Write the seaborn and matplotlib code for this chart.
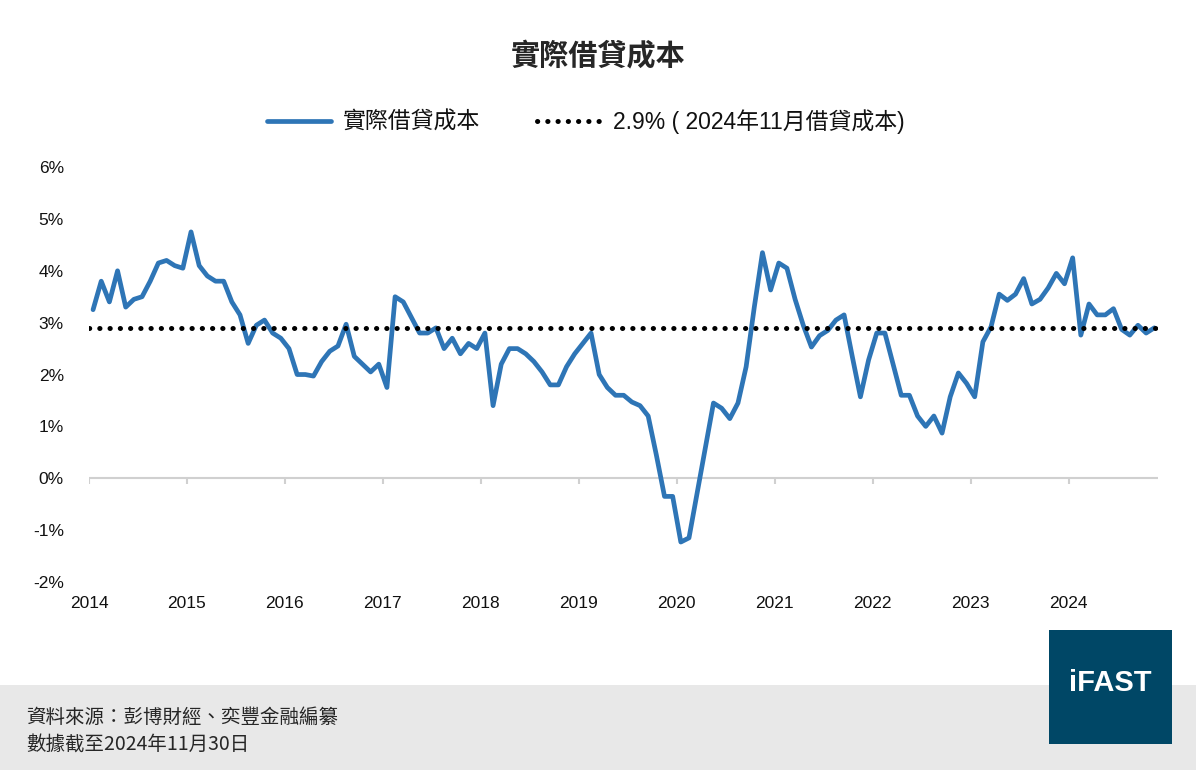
import matplotlib
matplotlib.use("Agg")
import matplotlib.pyplot as plt
import seaborn as sns
import numpy as np
import pandas as pd
from matplotlib.patches import Rectangle

sns.set_style("white")
plt.rcParams['font.family'] = ['Liberation Sans', 'Noto Sans CJK TC', 'DejaVu Sans']

# monthly real borrowing cost, Jan 2014 - Nov 2024 (%)
rate_2014 = [3.25, 3.8, 3.4, 4.0, 3.3, 3.45, 3.5, 3.8, 4.15, 4.2, 4.1, 4.05]
rate_2015 = [4.75, 4.1, 3.9, 3.8, 3.8, 3.4, 3.15, 2.6, 2.95, 3.05, 2.8, 2.7]
rate_2016 = [2.5, 2.0, 2.0, 1.97, 2.25, 2.45, 2.55, 2.97, 2.35, 2.2, 2.05, 2.2]
rate_2017 = [1.75, 3.5, 3.4, 3.1, 2.8, 2.8, 2.9, 2.5, 2.7, 2.4, 2.6, 2.5]
rate_2018 = [2.8, 1.4, 2.2, 2.5, 2.5, 2.4, 2.25, 2.05, 1.8, 1.8, 2.15, 2.4]
rate_2019 = [2.6, 2.8, 2.0, 1.75, 1.6, 1.6, 1.47, 1.4, 1.2, 0.45, -0.35, -0.35]
rate_2020 = [-1.23, -1.15, -0.28, 0.58, 1.45, 1.35, 1.15, 1.45, 2.15, 3.3, 4.35, 3.63]
rate_2021 = [4.15, 4.05, 3.45, 2.95, 2.53, 2.75, 2.85, 3.05, 3.15, 2.35, 1.57, 2.28]
rate_2022 = [2.8, 2.8, 2.2, 1.6, 1.6, 1.2, 1.0, 1.2, 0.87, 1.57, 2.03, 1.83]
rate_2023 = [1.57, 2.63, 2.92, 3.55, 3.43, 3.55, 3.85, 3.36, 3.45, 3.67, 3.95, 3.75]
rate_2024 = [4.25, 2.76, 3.36, 3.15, 3.15, 3.27, 2.87, 2.76, 2.95, 2.8, 2.9]
latest = 2.9
year_ticks = list(range(2014, 2025))
y_ticks = [-2, -1, 0, 1, 2, 3, 4, 5, 6]

rates = (rate_2014 + rate_2015 + rate_2016 + rate_2017 + rate_2018 + rate_2019
         + rate_2020 + rate_2021 + rate_2022 + rate_2023 + rate_2024)
df = pd.DataFrame({"t": 2014 + (np.arange(len(rates)) + 0.5) / 12, "rate": rates})

fig = plt.figure(figsize=(11.96, 7.7), dpi=100)
ax = fig.add_axes([0.0744, 0.2442, 0.8936, 0.5388])

sns.lineplot(data=df, x="t", y="rate", ax=ax, color="#2e75b6", linewidth=3.4,
             label="實際借貸成本")
ax.axhline(latest, color="black", linestyle=(0, (0.05, 2.0)), linewidth=3.6,
           dash_capstyle="round", label="2.9% ( 2024年11月借貸成本)")

ax.set_xlim(2014, 2024.91)
ax.set_ylim(-2, 6)
ax.set_yticks(y_ticks)
ax.set_yticklabels([f"{v}%" for v in y_ticks])
ax.set_xticks(year_ticks)
ax.set_xticklabels([str(y) for y in year_ticks])
ax.tick_params(axis="both", length=0, labelsize=12.5, colors="#111111", pad=10)
ax.tick_params(axis="y", pad=18)
for s in ax.spines.values():
    s.set_visible(False)
ax.axhline(0, color="#d0d0d0", linewidth=1.5, zorder=0)
ax.vlines(year_ticks, -0.12, 0, color="#d0d0d0", linewidth=1.5, zorder=0)
ax.set_xlabel("")
ax.set_ylabel("")

leg = ax.legend(loc="lower center", bbox_to_anchor=(0.465, 1.03), ncol=2, frameon=False,
                fontsize=16.5, handlelength=2.8, handletextpad=0.5, columnspacing=2.5)
for t in leg.get_texts():
    t.set_color("#111111")

fig.text(0.5, 0.927, "實際借貸成本", ha="center", va="center", fontsize=21,
         fontweight="bold", family=['Noto Sans CJK TC'])

fig.patches.append(Rectangle((0, 0), 1, 85 / 770, transform=fig.transFigure,
                             facecolor="#e8e8e8", edgecolor="none", zorder=0))
fig.text(0.022, 0.068, "資料來源：彭博財經、奕豐金融編纂", fontsize=14, va="center",
         family=['Noto Sans CJK TC'])
fig.text(0.022, 0.033, "數據截至2024年11月30日", fontsize=14, va="center",
         family=['Noto Sans CJK TC', 'Liberation Sans'])
fig.patches.append(Rectangle((1049 / 1196, 26 / 770), 123 / 1196, 114 / 770,
                             transform=fig.transFigure, facecolor="#004766",
                             edgecolor="none", zorder=2))
fig.text(1110 / 1196, 87 / 770, "iFAST", color="white", fontsize=21, fontweight="bold",
         ha="center", va="center", zorder=3)

fig.savefig("out.png", dpi=100)
